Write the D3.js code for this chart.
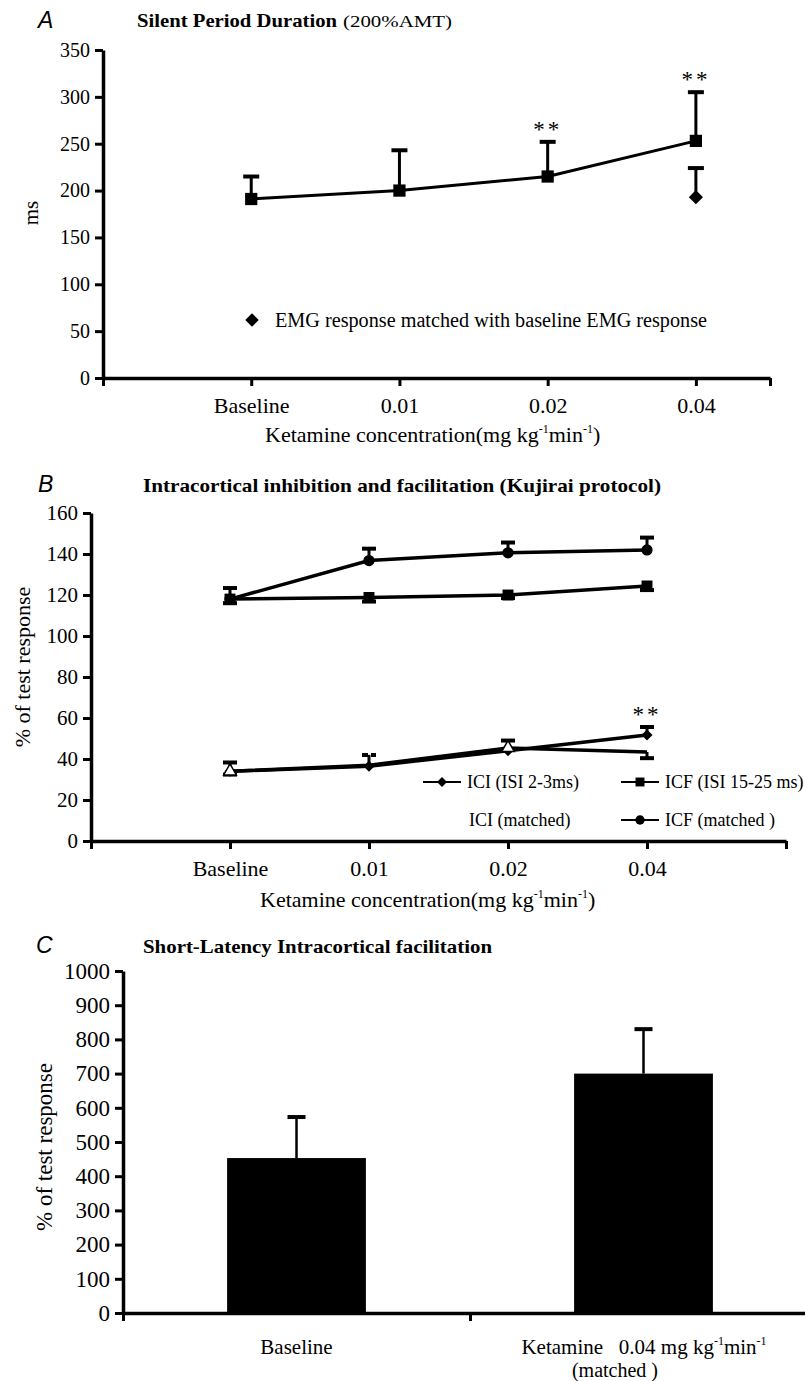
<!DOCTYPE html>
<html>
<head>
<meta charset="utf-8">
<script src="https://cdn.jsdelivr.net/npm/d3@7.9.0/dist/d3.min.js"></script>
<style>
  body { margin: 0; background: #fff; }
  svg { display: block; }
  text { font-family: "Liberation Serif", "Times New Roman", serif; fill: #000; }
  .letter { font-family: "Liberation Sans", Arial, sans-serif; font-style: italic; font-size: 23px; }
  .title { font-weight: bold; font-size: 19px; }
</style>
</head>
<body>
<svg id="fig" width="805" height="1381"></svg>
<script>
const doseLabels = ['Baseline', '0.01', '0.02', '0.04'];

// A: silent period duration (ms)
const spTicks = [0, 50, 100, 150, 200, 250, 300, 350];
const spMean = [191, 200, 215, 253];
const spSem = [24, 43, 37, 52];
const spMatchedMean = [null, null, null, 193];
const spMatchedSem = [null, null, null, 31];
const spStars = ['', '', '**', '**'];

// B: ICI / ICF (% of test response)
const bTicks = [0, 20, 40, 60, 80, 100, 120, 140, 160];
const iciMean = [34, 36.5, 44, 51.7];
const iciSem = [4.3, 5.5, 5, 3.9];
const iciMatchedMean = [34, 37, 45.4, 43.4];
const iciMatchedSem = [1.6, null, null, 3];
const iciMatchedMarker = [1, 0, 1, 0];
const icfMean = [118, 118.8, 120, 124.4];
const icfSem = [2, 2, 1.5, 2];
const icfMatchedMean = [118, 136.8, 140.6, 142];
const icfMatchedSem = [5.4, 5.8, 5, 6];
const iciStars = ['', '', '', '**'];

// C: short-latency facilitation
const cTicks = [0, 100, 200, 300, 400, 500, 600, 700, 800, 900, 1000];
const slCats = ['Baseline', 'Ketamine'];
const slMean = [453, 700];
const slSem = [120, 130];

const svg = d3.select('#fig');

function concLabel(g, x, y) {
  let t = g.append('text').attr('x', x).attr('y', y).attr('font-size', 22);
  t.append('tspan').text('Ketamine concentration(mg kg');
  t.append('tspan').attr('font-size', 12).attr('dy', -9).text('-1');
  t.append('tspan').attr('dy', 9).text('min');
  t.append('tspan').attr('font-size', 12).attr('dy', -9).text('-1');
  t.append('tspan').attr('dy', 9).text(')');
  return t;
}

function styleAxis(g, fontSize) {
  g.select('.domain').attr('stroke-width', 3.5);
  g.selectAll('.tick line').attr('stroke-width', 3);
  g.selectAll('.tick text').attr('font-size', fontSize);
  g.attr('font-family', null).attr('font-size', null);
}

function drawErrors(g, x, y, means, sems, dir, capW, dash) {
  means.forEach((m, i) => {
    if (m == null || sems[i] == null) return;
    let cx = x(i + 1);
    let ey = y(m + dir * sems[i]);
    g.append('line').attr('x1', cx).attr('x2', cx).attr('y1', y(m)).attr('y2', ey)
      .attr('stroke', '#000').attr('stroke-width', 3);
    g.append('line').attr('x1', cx - capW / 2).attr('x2', cx + capW / 2).attr('y1', ey).attr('y2', ey)
      .attr('stroke', '#000').attr('stroke-width', 4)
      .attr('stroke-dasharray', dash && dash[i] ? '6,3' : null);
  });
}

function drawLine(g, x, y, means, width) {
  let line = d3.line()
    .defined((d) => d != null)
    .x((d, i) => x(i + 1))
    .y((d) => y(d));
  g.append('path').datum(means).attr('d', line)
    .attr('fill', 'none').attr('stroke', '#000').attr('stroke-width', width);
}

function drawMarkers(g, x, y, means, type, size, fill, rotate, show) {
  let sym = d3.symbol().type(type).size(size);
  means.forEach((m, i) => {
    if (m == null || (show && !show[i])) return;
    g.append('path').attr('d', sym())
      .attr('transform', `translate(${x(i + 1)},${y(m)}) rotate(${rotate || 0})`)
      .attr('fill', fill).attr('stroke', '#000').attr('stroke-width', fill === '#000' ? 0 : 1.5);
  });
}

function drawStars(g, x, y, means, sems, stars) {
  stars.forEach((s, i) => {
    if (!s) return;
    g.append('text').attr('x', x(i + 1)).attr('y', y(means[i] + sems[i]) - 5)
      .attr('text-anchor', 'middle').attr('font-size', 23).attr('letter-spacing', 3).text(s);
  });
}

// ---------- Panel A ----------
{
  let g = svg.append('g');
  let x = d3.scaleLinear().domain([0, 4.5]).range([103, 770]);
  let y = d3.scaleLinear().domain([0, 350]).range([378, 50]);

  g.append('text').attr('class', 'letter').attr('x', 38).attr('y', 28).text('A');
  g.append('text').attr('class', 'title').attr('x', 137).attr('y', 27)
    .attr('textLength', 200).attr('lengthAdjust', 'spacingAndGlyphs').text('Silent Period Duration');
  g.append('text').attr('x', 343).attr('y', 27).attr('font-size', 16)
    .attr('textLength', 109).attr('lengthAdjust', 'spacingAndGlyphs').text('(200%AMT)');

  let ya = g.append('g').attr('transform', `translate(${x(0)},0)`)
    .call(d3.axisLeft(y).tickValues(spTicks).tickSize(8).tickSizeOuter(0).tickPadding(5));
  styleAxis(ya, 20);

  let xa = g.append('g').attr('transform', `translate(0,${y(0)})`)
    .call(d3.axisBottom(x).tickValues([0, 1, 2, 3, 4, 4.5]).tickSize(8).tickSizeOuter(0).tickPadding(11)
      .tickFormat((d) => doseLabels[d - 1] || ''));
  styleAxis(xa, 22);

  g.append('text').attr('transform', 'translate(38,213) rotate(-90)').attr('text-anchor', 'middle')
    .attr('font-size', 21).text('ms');
  concLabel(g, 265, 442);

  drawErrors(g, x, y, spMean, spSem, 1, 16);
  drawErrors(g, x, y, spMatchedMean, spMatchedSem, 1, 16);
  drawLine(g, x, y, spMean, 3);
  drawMarkers(g, x, y, spMean, d3.symbolSquare, 150, '#000');
  drawMarkers(g, x, y, spMatchedMean, d3.symbolSquare, 100, '#000', 45);
  drawStars(g, x, y, spMean, spSem, spStars);

  // legend
  g.append('path').attr('d', d3.symbol().type(d3.symbolSquare).size(90)())
    .attr('transform', 'translate(252,320) rotate(45)').attr('fill', '#000');
  g.append('text').attr('x', 275).attr('y', 327).attr('font-size', 20)
    .attr('textLength', 432).attr('lengthAdjust', 'spacingAndGlyphs')
    .text('EMG response matched with baseline EMG response');
}

// ---------- Panel B ----------
{
  let g = svg.append('g');
  let x = d3.scaleLinear().domain([0, 5]).range([91, 786]);
  let y = d3.scaleLinear().domain([0, 160]).range([841, 513]);

  g.append('text').attr('class', 'letter').attr('x', 38).attr('y', 492).text('B');
  g.append('text').attr('class', 'title').attr('x', 143).attr('y', 492)
    .attr('textLength', 518).attr('lengthAdjust', 'spacingAndGlyphs')
    .text('Intracortical inhibition and facilitation (Kujirai protocol)');

  let ya = g.append('g').attr('transform', `translate(${x(0)},0)`)
    .call(d3.axisLeft(y).tickValues(bTicks).tickSize(8).tickSizeOuter(0).tickPadding(5));
  styleAxis(ya, 21);

  let xa = g.append('g').attr('transform', `translate(0,${y(0)})`)
    .call(d3.axisBottom(x).tickValues([0, 1, 2, 3, 4, 5]).tickSize(8).tickSizeOuter(0).tickPadding(11)
      .tickFormat((d) => doseLabels[d - 1] || ''));
  styleAxis(xa, 22);

  g.append('text').attr('transform', 'translate(30,667) rotate(-90)').attr('text-anchor', 'middle')
    .attr('font-size', 22).text('% of test response');
  concLabel(g, 260, 907);

  drawErrors(g, x, y, icfMean, icfSem, -1, 14);
  drawErrors(g, x, y, icfMatchedMean, icfMatchedSem, 1, 14);
  drawErrors(g, x, y, iciMean, iciSem, 1, 14, [0, 1, 0, 0]);
  drawErrors(g, x, y, iciMatchedMean, iciMatchedSem, -1, 14);
  drawLine(g, x, y, icfMean, 3.5);
  drawLine(g, x, y, icfMatchedMean, 3.5);
  drawLine(g, x, y, iciMean, 3.5);
  drawLine(g, x, y, iciMatchedMean, 3.5);
  drawMarkers(g, x, y, icfMean, d3.symbolSquare, 120, '#000');
  drawMarkers(g, x, y, icfMatchedMean, d3.symbolCircle, 100, '#000');
  drawMarkers(g, x, y, iciMean, d3.symbolSquare, 60, '#000', 45);
  drawMarkers(g, x, y, iciMatchedMean, d3.symbolTriangle, 70, '#fff', 0, iciMatchedMarker);
  drawStars(g, x, y, iciMean, iciSem, iciStars);

  // legend
  let legend = [
    { label: 'ICI (ISI 2-3ms)', lx: 423, tx: 467, ly: 782, type: d3.symbolSquare, size: 50, rot: 45, line: true },
    { label: 'ICF (ISI 15-25 ms)', lx: 621, tx: 665, ly: 782, type: d3.symbolSquare, size: 80, rot: 0, line: true },
    { label: 'ICI (matched)', lx: 423, tx: 469, ly: 820, type: null, line: false },
    { label: 'ICF (matched )', lx: 621, tx: 665, ly: 820, type: d3.symbolCircle, size: 70, rot: 0, line: true },
  ];
  legend.forEach((d) => {
    if (d.line) {
      g.append('line').attr('x1', d.lx).attr('x2', d.lx + 38).attr('y1', d.ly).attr('y2', d.ly)
        .attr('stroke', '#000').attr('stroke-width', 2);
      g.append('path').attr('d', d3.symbol().type(d.type).size(d.size)())
        .attr('transform', `translate(${d.lx + 19},${d.ly}) rotate(${d.rot})`).attr('fill', '#000');
    }
    g.append('text').attr('x', d.tx).attr('y', d.ly + 6).attr('font-size', 18).text(d.label);
  });
}

// ---------- Panel C ----------
{
  let g = svg.append('g');
  let x = d3.scaleBand().domain(slCats).range([123, 817]).paddingInner(0.6).paddingOuter(0.3);
  let y = d3.scaleLinear().domain([0, 1000]).range([1313, 971]);

  g.append('text').attr('class', 'letter').attr('x', 36).attr('y', 953).text('C');
  g.append('text').attr('class', 'title').attr('x', 143).attr('y', 953)
    .attr('textLength', 349).attr('lengthAdjust', 'spacingAndGlyphs')
    .text('Short-Latency Intracortical facilitation');

  g.selectAll('rect.bar').data(slMean).join('rect')
    .attr('class', 'bar')
    .attr('x', (d, i) => x(slCats[i]))
    .attr('width', x.bandwidth())
    .attr('y', (d) => y(d))
    .attr('height', (d) => y(0) - y(d))
    .attr('fill', '#000');

  slMean.forEach((m, i) => {
    let cx = x(slCats[i]) + x.bandwidth() / 2;
    let ey = y(m + slSem[i]);
    g.append('line').attr('x1', cx).attr('x2', cx).attr('y1', y(m)).attr('y2', ey)
      .attr('stroke', '#000').attr('stroke-width', 2.5);
    g.append('line').attr('x1', cx - 9).attr('x2', cx + 9).attr('y1', ey).attr('y2', ey)
      .attr('stroke', '#000').attr('stroke-width', 4);
  });

  let ya = g.append('g').attr('transform', 'translate(123,0)')
    .call(d3.axisLeft(y).tickValues(cTicks).tickSize(8).tickSizeOuter(0).tickPadding(5)
      .tickFormat(d3.format('d')));
  styleAxis(ya, 23);

  let xEdge = d3.scaleLinear().domain([0, 2]).range([123, 817]);
  let xa = g.append('g').attr('transform', `translate(0,${y(0)})`)
    .call(d3.axisBottom(xEdge).tickValues([0, 1, 2]).tickSize(8).tickSizeOuter(0).tickFormat(''));
  styleAxis(xa, 20);

  g.append('text').attr('transform', 'translate(52,1147) rotate(-90)').attr('text-anchor', 'middle')
    .attr('font-size', 23).text('% of test response');

  g.append('text').attr('x', x('Baseline') + x.bandwidth() / 2).attr('y', 1354)
    .attr('text-anchor', 'middle').attr('font-size', 21).text('Baseline');
  let t = g.append('text').attr('x', 644).attr('y', 1354).attr('text-anchor', 'middle')
    .attr('font-size', 21).style('white-space', 'pre');
  t.append('tspan').text('Ketamine   0.04 mg kg');
  t.append('tspan').attr('font-size', 12).attr('dy', -9).text('-1');
  t.append('tspan').attr('dy', 9).text('min');
  t.append('tspan').attr('font-size', 12).attr('dy', -9).text('-1');
  g.append('text').attr('x', 615).attr('y', 1377).attr('text-anchor', 'middle').attr('font-size', 20)
    .text('(matched )');
}
</script>
</body>
</html>
